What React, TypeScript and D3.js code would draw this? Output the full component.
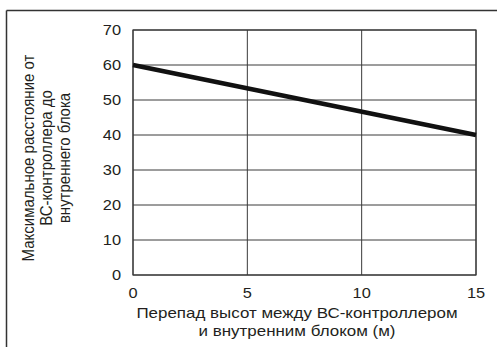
import React from "react";
import * as d3 from "d3";

const xValues = [0, 15];
const yValues = [60, 40];
const xTicks = [0, 5, 10, 15];
const yTicks = [0, 10, 20, 30, 40, 50, 60, 70];
const xTitle = ["Перепад высот между ВС-контроллером", "и внутренним блоком (м)"];
const yTitle = ["Максимальное расстояние от", "ВС-контроллера до", "внутреннего блока"];

export default function App() {
  const W = 497, H = 347;
  const left = 133, right = 476, top = 30, bottom = 275;
  const x = d3.scaleLinear().domain([0, 15]).range([left, right]);
  const y = d3.scaleLinear().domain([0, 70]).range([bottom, top]);
  const pts: [number, number][] = xValues.map((v, i) => [v, yValues[i]]);
  const line = d3.line<[number, number]>().x(d => x(d[0])).y(d => y(d[1]));
  const font = "'Liberation Sans', Arial, sans-serif";
  const textColor = "#231f20";
  const grid = "#3a3a3a";
  const sx = 1.13;
  const cy = 158;
  return (
    <svg width={W} height={H} style={{ position: "absolute", left: 0, top: 0, background: "#fff" }}>
      <rect x={0} y={0} width={W} height={H} fill="#fff" />
      <line x1={6.5} y1={10.5} x2={W} y2={10.5} stroke="#333" strokeWidth={1.5} />
      <line x1={6.5} y1={10.5} x2={6.5} y2={H} stroke="#333" strokeWidth={1.5} />
      {yTicks.map(t => (
        <line key={"h" + t} x1={left} x2={right} y1={y(t)} y2={y(t)} stroke={grid} strokeWidth={1} />
      ))}
      {xTicks.map(t => (
        <line key={"v" + t} x1={x(t)} x2={x(t)} y1={top} y2={bottom} stroke={grid} strokeWidth={1} />
      ))}
      <rect x={left} y={top} width={right - left} height={bottom - top} fill="none" stroke={grid} strokeWidth={1.2} />
      <path d={line(pts) || ""} fill="none" stroke="#111" strokeWidth={4.5} />
      {yTicks.map(t => (
        <text key={"yl" + t} transform={`translate(121,${y(t)}) scale(${sx},1)`} dy="0.35em" textAnchor="end" fontFamily={font} fontSize={14.5} fill={textColor}>{t}</text>
      ))}
      {xTicks.map(t => (
        <text key={"xl" + t} transform={`translate(${x(t)},293) scale(${sx},1)`} dy="0.35em" textAnchor="middle" fontFamily={font} fontSize={14.5} fill={textColor}>{t}</text>
      ))}
      {xTitle.map((s, i) => (
        <text key={"xt" + i} transform={`translate(297,${313 + i * 18}) scale(${sx},1)`} dy="0.35em" textAnchor="middle" fontFamily={font} fontSize={15} fill={textColor}>{s}</text>
      ))}
      {yTitle.map((s, i) => (
        <text key={"yt" + i} transform={`translate(${28.5 + i * 18},${cy}) scale(${sx},1) rotate(-90)`} dy="0.35em" textAnchor="middle" fontFamily={font} fontSize={15} fill={textColor}>{s}</text>
      ))}
    </svg>
  );
}
